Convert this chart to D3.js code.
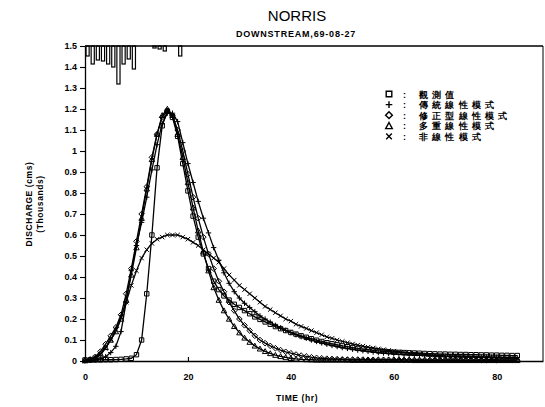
<!DOCTYPE html>
<html>
<head>
<meta charset="utf-8">
<script src="https://cdn.jsdelivr.net/npm/d3@7"></script>
<style>
  body { margin: 0; background: #fff; }
  svg { display: block; }
  text { font-family: "Liberation Sans", Arial, sans-serif; fill: #000; }
</style>
</head>
<body>
<div id="chart"></div>
<script>
// hourly time steps (hr)
const hours = [0,1,2,3,4,5,6,7,8,9,10,11,12,13,14,15,16,17,18,19,20,21,22,23,24,25,26,27,28,29,
  30,31,32,33,34,35,36,37,38,39,40,41,42,43,44,45,46,47,48,49,50,51,52,53,54,55,56,57,58,59,
  60,61,62,63,64,65,66,67,68,69,70,71,72,73,74,75,76,77,78,79,80,81,82,83,84];

// discharge, thousands cms
const observed = [0.005,0.005,0.005,0.005,0.006,0.006,0.007,0.008,0.010,0.013,
  0.030,0.10,0.32,0.60,0.92,1.12,1.19,1.16,1.07,0.94,
  0.81,0.69,0.59,0.51,0.44,0.38,0.34,0.31,0.29,0.27,
  0.255,0.24,0.225,0.21,0.198,0.186,0.175,0.164,0.154,0.145,
  0.136,0.128,0.12,0.113,0.106,0.099,0.093,0.087,0.082,0.077,
  0.072,0.068,0.064,0.06,0.057,0.054,0.051,0.048,0.046,0.044,
  0.042,0.041,0.04,0.039,0.038,0.037,0.036,0.035,0.034,0.033,
  0.033,0.032,0.032,0.031,0.031,0.030,0.030,0.029,0.029,0.028,
  0.028,0.027,0.027,0.026,0.026];
const traditional = [0.002,0.003,0.005,0.01,0.02,0.04,0.07,0.14,0.28,0.43,
  0.55,0.66,0.78,0.91,1.03,1.13,1.18,1.18,1.14,1.04,
  0.94,0.85,0.76,0.68,0.61,0.54,0.48,0.42,0.37,0.33,
  0.30,0.275,0.255,0.235,0.215,0.20,0.185,0.17,0.158,0.146,
  0.135,0.125,0.116,0.108,0.10,0.093,0.086,0.08,0.074,0.069,
  0.064,0.06,0.056,0.052,0.049,0.046,0.043,0.04,0.038,0.036,
  0.034,0.032,0.03,0.029,0.028,0.027,0.026,0.025,0.024,0.023,
  0.022,0.021,0.021,0.02,0.02,0.019,0.019,0.018,0.018,0.017,
  0.017,0.016,0.016,0.015,0.015];
const modified = [0.003,0.008,0.02,0.045,0.08,0.12,0.16,0.22,0.32,0.44,
  0.57,0.70,0.83,0.97,1.08,1.16,1.19,1.17,1.10,1.00,
  0.89,0.78,0.68,0.59,0.51,0.44,0.38,0.33,0.28,0.24,
  0.20,0.17,0.145,0.12,0.10,0.085,0.072,0.061,0.052,0.044,
  0.037,0.031,0.026,0.022,0.018,0.015,0.013,0.011,0.010,0.009,
  0.008,0.007,0.007,0.007,0.007,0.006,0.006,0.006,0.006,0.006,
  0.006,0.006,0.005,0.005,0.005,0.005,0.005,0.005,0.005,0.005,
  0.005,0.005,0.005,0.004,0.004,0.004,0.004,0.004,0.004,0.004,
  0.004,0.004,0.004,0.004,0.004];
const multiple = [0.002,0.006,0.015,0.035,0.065,0.10,0.14,0.20,0.29,0.41,
  0.54,0.68,0.82,0.96,1.08,1.17,1.20,1.17,1.08,0.97,
  0.85,0.73,0.62,0.52,0.43,0.35,0.29,0.24,0.20,0.165,
  0.135,0.11,0.09,0.072,0.058,0.046,0.036,0.028,0.022,0.017,
  0.013,0.010,0.008,0.007,0.006,0.005,0.005,0.005,0.005,0.005,
  0.005,0.005,0.004,0.004,0.004,0.004,0.004,0.004,0.004,0.004,
  0.004,0.004,0.004,0.004,0.003,0.003,0.003,0.003,0.003,0.003,
  0.003,0.003,0.003,0.003,0.003,0.003,0.003,0.003,0.003,0.003,
  0.003,0.003,0.003,0.003,0.003];
const nash = [0.0,0.005,0.015,0.03,0.06,0.10,0.15,0.21,0.28,0.36,
  0.43,0.49,0.53,0.56,0.58,0.59,0.60,0.60,0.60,0.59,
  0.58,0.565,0.55,0.53,0.51,0.49,0.47,0.44,0.41,0.385,
  0.36,0.34,0.32,0.30,0.28,0.26,0.245,0.23,0.215,0.20,
  0.19,0.175,0.165,0.155,0.145,0.135,0.125,0.115,0.108,0.10,
  0.093,0.087,0.081,0.076,0.071,0.066,0.062,0.058,0.054,0.05,
  0.047,0.044,0.041,0.038,0.036,0.033,0.031,0.029,0.027,0.025,
  0.023,0.022,0.021,0.020,0.019,0.018,0.017,0.016,0.016,0.015,
  0.014,0.014,0.013,0.013,0.012];

// hourly rainfall (mm), bar for hour h covers [h-1, h]
const rainHours = [1,2,3,4,5,6,7,8,9,10,14,15,16,19];
const rain = [4,7.2,5.6,6,7.2,8.4,15.2,7.2,5.2,9.2,0.8,1.2,2,4];

const seriesNames = ["觀測值", "傳統線性模式", "修正型線性模式", "多重線性模式", "非線性模式"];
const seriesValues = [observed, traditional, modified, multiple, nash];
const seriesMarks = ["square", "plus", "diamond", "triangle", "cross"];

const xTicks = [0, 20, 40, 60, 80];

const W = 545, H = 407;
const svg = d3.select("#chart").append("svg").attr("width", W).attr("height", H);

const x = d3.scaleLinear().domain([0, 89]).range([85, 543]);
const y = d3.scaleLinear().domain([0, 1.5]).range([361, 46]);
const rainY = d3.scaleLinear().domain([0, 10]).range([0, 25]);

function markPath(type, r) {
  switch (type) {
    case "square": return `M${-r},${-r}h${2*r}v${2*r}h${-2*r}Z`;
    case "plus": return `M${-r-0.5},0h${2*r+1}M0,${-r-0.5}v${2*r+1}`;
    case "diamond": return `M0,${-r-0.6}L${r+0.6},0L0,${r+0.6}L${-r-0.6},0Z`;
    case "triangle": return `M0,${-r-0.5}L${r+0.5},${r}L${-r-0.5},${r}Z`;
    case "cross": return `M${-r},${-r}L${r},${r}M${r},${-r}L${-r},${r}`;
  }
}

// rainfall bars hanging from the top
svg.append("g")
  .selectAll("rect")
  .data(rainHours.map((h, i) => ({h, v: rain[i]})))
  .join("rect")
  .attr("x", d => x(d.h - 1) + 1)
  .attr("width", d => x(d.h) - x(d.h - 1) - 2)
  .attr("y", y(1.5))
  .attr("height", d => rainY(d.v))
  .attr("fill", "#fff")
  .attr("stroke", "#000")
  .attr("stroke-width", 1.2);

// axes
const yAxis = svg.append("g")
  .attr("transform", `translate(${x(0)},0)`)
  .call(d3.axisLeft(y).ticks(15).tickFormat(d3.format("~g")).tickSize(5).tickSizeOuter(0).tickPadding(3));
yAxis.selectAll("text").attr("font-size", 9).attr("font-weight", "bold");

const xAxis = svg.append("g")
  .attr("transform", `translate(0,${y(0)})`)
  .call(d3.axisBottom(x).tickValues(xTicks).tickSize(-4).tickSizeOuter(0).tickPadding(13));
xAxis.selectAll("text").attr("font-size", 9).attr("font-weight", "bold");

svg.selectAll(".domain").attr("stroke-width", 1.3);
svg.selectAll(".tick line").attr("stroke-width", 1.1);

// frame top and right
svg.append("line").attr("x1", x(0)).attr("x2", x(89)).attr("y1", y(1.5)).attr("y2", y(1.5))
  .attr("stroke", "#000").attr("stroke-width", 1.3);
svg.append("line").attr("x1", x(89)).attr("x2", x(89)).attr("y1", y(1.5)).attr("y2", y(0))
  .attr("stroke", "#000").attr("stroke-width", 1);

// series
const line = d3.line().x((d, i) => x(hours[i])).y(d => y(d));
seriesValues.forEach((vals, k) => {
  svg.append("path")
    .attr("d", line(vals))
    .attr("fill", "none")
    .attr("stroke", "#000")
    .attr("stroke-width", 1.3);
  svg.append("g")
    .selectAll("path")
    .data(vals)
    .join("path")
    .attr("transform", (d, i) => `translate(${x(hours[i])},${y(d)})`)
    .attr("d", markPath(seriesMarks[k], 2.2))
    .attr("fill", "none")
    .attr("stroke", "#000")
    .attr("stroke-width", 1);
});

// titles
svg.append("text").attr("x", 297).attr("y", 21).attr("text-anchor", "middle")
  .attr("font-size", 15).text("NORRIS");
svg.append("text").attr("x", 296).attr("y", 37).attr("text-anchor", "middle")
  .attr("font-size", 9).attr("font-weight", "bold").attr("letter-spacing", 0.8)
  .text("DOWNSTREAM,69-08-27");
svg.append("text").attr("x", 297).attr("y", 401).attr("text-anchor", "middle")
  .attr("font-size", 8.5).attr("font-weight", "bold").attr("letter-spacing", 0.6).text("TIME (hr)");
svg.append("text").attr("transform", "translate(32,204) rotate(-90)").attr("text-anchor", "middle")
  .attr("font-size", 8.5).attr("font-weight", "bold").attr("letter-spacing", 0.6).text("DISCHARGE (cms)");
svg.append("text").attr("transform", "translate(43,204) rotate(-90)").attr("text-anchor", "middle")
  .attr("font-size", 8.5).attr("font-weight", "bold").attr("letter-spacing", 0.6).text("(Thousands)");

// legend
const legend = svg.append("g");
seriesNames.forEach((name, k) => {
  const cy = 94 + k * 10.6;
  legend.append("path")
    .attr("transform", `translate(389,${cy})`)
    .attr("d", markPath(seriesMarks[k], 2.8))
    .attr("fill", "none").attr("stroke", "#000").attr("stroke-width", 1.4);
  legend.append("text").attr("x", 403).attr("y", cy + 3.5)
    .attr("font-size", 9).attr("font-weight", "bold").text(":");
  legend.append("text").attr("x", 419).attr("y", cy + 3.6)
    .attr("font-family", "'Noto Sans CJK TC', sans-serif")
    .attr("font-size", 9).attr("font-weight", "bold").attr("letter-spacing", 4.2)
    .text(name);
});
</script>
</body>
</html>
